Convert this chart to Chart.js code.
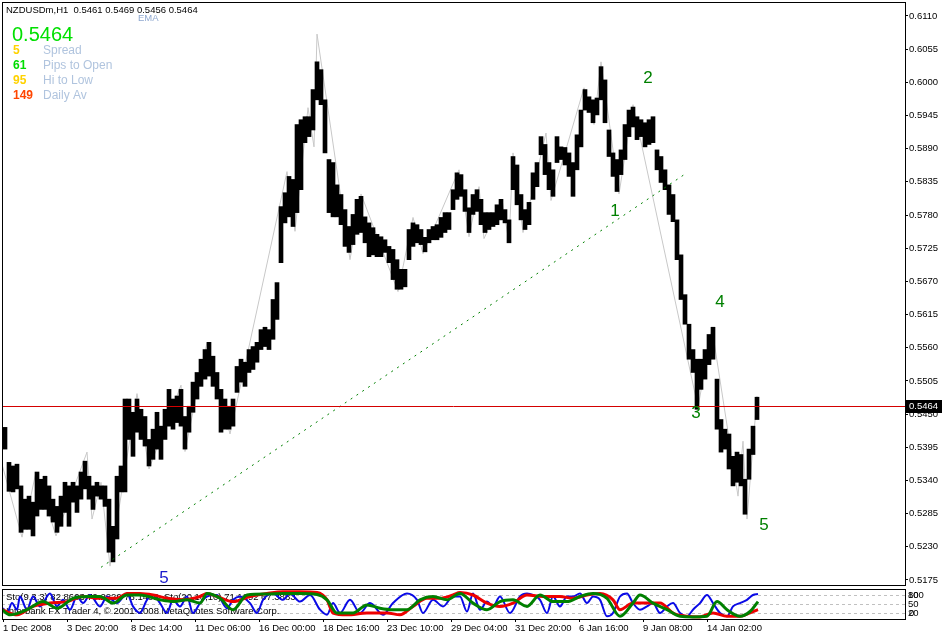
<!DOCTYPE html>
<html>
<head>
<meta charset="utf-8">
<script src="https://cdn.jsdelivr.net/npm/chart.js@4.4.0/dist/chart.umd.min.js"></script>
<style>
html, body { margin: 0; padding: 0; background: #fff; }
#wrap { position: relative; width: 943px; height: 636px; overflow: hidden; }
#main { position: absolute; left: 0; top: 0; }
#sub { position: absolute; left: 0; top: 588px; }
</style>
</head>
<body>
<div id="wrap">
  <canvas id="main" width="943" height="588"></canvas>
  <canvas id="sub" width="943" height="48"></canvas>
</div>
<script>
// H1 bars grouped by 4 hours: high / low of each group
const hiPrices = [
  0.5428, 0.5370, 0.5364, 0.5367, 0.5331, 0.5309, 0.5314, 0.5304, 0.5354, 0.5342,
  0.5347, 0.5331, 0.5309, 0.5297, 0.5314, 0.5337, 0.5331, 0.5337, 0.5331, 0.5354,
  0.5372, 0.5347, 0.5331, 0.5337, 0.5331, 0.5331, 0.5309, 0.5264, 0.5347, 0.5364,
  0.5475, 0.5475, 0.5453, 0.5475, 0.5458, 0.5446, 0.5408, 0.5425, 0.5453, 0.5430,
  0.5458, 0.5491, 0.5475, 0.5480, 0.5491, 0.5446, 0.5463, 0.5503, 0.5519, 0.5541,
  0.5557, 0.5569, 0.5546, 0.5519, 0.5491, 0.5475, 0.5463, 0.5475, 0.5529, 0.5541,
  0.5536, 0.5557, 0.5562, 0.5569, 0.5590, 0.5594, 0.5590, 0.5640, 0.5668, 0.5794,
  0.5817, 0.5844, 0.5839, 0.5930, 0.5938, 0.5943, 0.5943, 0.5988, 0.6034, 0.6021,
  0.5971, 0.5872, 0.5867, 0.5830, 0.5814, 0.5789, 0.5761, 0.5781, 0.5806, 0.5811,
  0.5777, 0.5767, 0.5759, 0.5748, 0.5744, 0.5739, 0.5728, 0.5723, 0.5706, 0.5690,
  0.5690, 0.5756, 0.5767, 0.5764, 0.5756, 0.5743, 0.5756, 0.5761, 0.5764, 0.5776,
  0.5784, 0.5784, 0.5822, 0.5850, 0.5847, 0.5822, 0.5792, 0.5814, 0.5822, 0.5806,
  0.5784, 0.5784, 0.5784, 0.5797, 0.5806, 0.5789, 0.5772, 0.5877, 0.5863, 0.5814,
  0.5789, 0.5801, 0.5850, 0.5867, 0.5910, 0.5897, 0.5867, 0.5855, 0.5910, 0.5893,
  0.5892, 0.5883, 0.5867, 0.5913, 0.5954, 0.5988, 0.5976, 0.5971, 0.5974, 0.6026,
  0.6004, 0.5921, 0.5883, 0.5872, 0.5888, 0.5930, 0.5954, 0.5959, 0.5943, 0.5938,
  0.5933, 0.5938, 0.5943, 0.5888, 0.5877, 0.5855, 0.5830, 0.5814, 0.5772, 0.5714,
  0.5648, 0.5599, 0.5557, 0.5541, 0.5541, 0.5557, 0.5582, 0.5594, 0.5508, 0.5441,
  0.5425, 0.5417, 0.5380, 0.5387, 0.5383, 0.5342, 0.5392, 0.5430, 0.5478
];
const loPrices = [
  0.5392, 0.5322, 0.5321, 0.5326, 0.5254, 0.5259, 0.5259, 0.5248, 0.5281, 0.5292,
  0.5292, 0.5281, 0.5271, 0.5254, 0.5264, 0.5287, 0.5264, 0.5304, 0.5287, 0.5309,
  0.5326, 0.5309, 0.5292, 0.5314, 0.5309, 0.5297, 0.5221, 0.5205, 0.5243, 0.5321,
  0.5321, 0.5408, 0.5380, 0.5420, 0.5408, 0.5397, 0.5364, 0.5375, 0.5392, 0.5375,
  0.5408, 0.5430, 0.5425, 0.5436, 0.5430, 0.5392, 0.5420, 0.5453, 0.5475, 0.5496,
  0.5508, 0.5513, 0.5496, 0.5475, 0.5420, 0.5425, 0.5425, 0.5430, 0.5486, 0.5503,
  0.5496, 0.5519, 0.5524, 0.5536, 0.5557, 0.5562, 0.5557, 0.5574, 0.5607, 0.5701,
  0.5767, 0.5777, 0.5761, 0.5784, 0.5822, 0.5900, 0.5910, 0.5921, 0.5971, 0.5963,
  0.5883, 0.5784, 0.5777, 0.5777, 0.5764, 0.5728, 0.5718, 0.5731, 0.5748, 0.5751,
  0.5734, 0.5711, 0.5714, 0.5711, 0.5711, 0.5718, 0.5701, 0.5673, 0.5657, 0.5657,
  0.5661, 0.5706, 0.5728, 0.5734, 0.5731, 0.5719, 0.5734, 0.5739, 0.5739, 0.5743,
  0.5751, 0.5756, 0.5789, 0.5806, 0.5811, 0.5786, 0.5751, 0.5781, 0.5786, 0.5764,
  0.5751, 0.5756, 0.5761, 0.5764, 0.5772, 0.5767, 0.5734, 0.5822, 0.5797, 0.5772,
  0.5756, 0.5764, 0.5806, 0.5827, 0.5880, 0.5847, 0.5822, 0.5811, 0.5867, 0.5872,
  0.5863, 0.5844, 0.5811, 0.5855, 0.5893, 0.5954, 0.5950, 0.5933, 0.5946, 0.5971,
  0.5933, 0.5877, 0.5844, 0.5819, 0.5847, 0.5872, 0.5910, 0.5926, 0.5905, 0.5910,
  0.5893, 0.5897, 0.5900, 0.5855, 0.5834, 0.5822, 0.5781, 0.5769, 0.5706, 0.5640,
  0.5599, 0.5541, 0.5519, 0.5458, 0.5491, 0.5508, 0.5532, 0.5541, 0.5425, 0.5387,
  0.5392, 0.5359, 0.5331, 0.5337, 0.5331, 0.5284, 0.5342, 0.5383, 0.5441
];
const HOURS_PER_GROUP = 4;

// ZigZag turning points (bar index, price)
const zigzagIdx = [0, 20, 34, 54, 85, 90, 99, 108, 135, 147, 179, 183, 205, 228, 285, 293, 306, 312, 315,
  348, 359, 396, 411, 421, 457, 467, 477, 482, 500, 507, 511, 521, 544, 549, 582, 592, 599, 617, 631,
  696, 710, 736, 741, 745, 755];
const zigzagPrice = [0.5367, 0.5246, 0.5354, 0.5248, 0.5387, 0.5276, 0.5337, 0.5198, 0.5484, 0.5359, 0.5498,
  0.5388, 0.5569, 0.5417, 0.5852, 0.5753, 0.5958, 0.5893, 0.6080, 0.5706, 0.5815, 0.5653, 0.5776, 0.5716,
  0.5855, 0.5744, 0.5827, 0.5741, 0.5806, 0.5734, 0.5883, 0.5751, 0.5916, 0.5804, 0.5991, 0.5930, 0.6034,
  0.5815, 0.5963, 0.5461, 0.5592, 0.5314, 0.5405, 0.5276, 0.5480];

// trend line (dotted green)
const trendIdx = [99, 684];
const trendPrice = [0.5196, 0.5849];

const lastPrice = 0.5464;
const yTicks = [0.5175, 0.5230, 0.5285, 0.5340, 0.5395, 0.5450, 0.5505, 0.5560, 0.5615, 0.5670,
  0.5725, 0.5780, 0.5835, 0.5890, 0.5945, 0.6000, 0.6055, 0.6110];

const dateIdx = [1, 65, 129, 193, 257, 321, 385, 449, 513, 577, 641, 705];
const dateLabels = ['1 Dec 2008', '3 Dec 20:00', '8 Dec 14:00', '11 Dec 06:00', '16 Dec 00:00', '18 Dec 16:00',
  '23 Dec 10:00', '29 Dec 04:00', '31 Dec 20:00', '6 Jan 16:00', '9 Jan 08:00', '14 Jan 02:00'];

// wave counts
const waveText = ['1', '2', '3', '4', '5', '5'];
const waveIdx = [613, 646, 694, 718, 762, 162];
const wavePrice = [0.5786, 0.6006, 0.5451, 0.5635, 0.5266, 0.5177];
const waveColor = ['#008000', '#008000', '#008000', '#008000', '#008000', '#1a1acc'];

// stochastic lines: [bar index, value]
const stoMain = [[1,36],[5,20],[10,53],[15,31],[18,75],[25,31],[31,75],[38,42],[48,85],[55,42],[61,64],[68,31],
  [75,75],[81,53],[88,80],[98,42],[105,75],[115,53],[125,85],[131,42],[138,20],[145,64],[151,80],[158,53],
  [165,20],[171,64],[178,42],[185,75],[191,20],[198,53],[205,75],[215,80],[225,36],[231,64],[238,75],[248,53],
  [255,20],[261,64],[271,85],[281,64],[288,85],[298,58],[308,80],[318,31],[325,14],[331,53],[338,20],[348,64],
  [358,20],[368,53],[381,14],[391,53],[405,85],[415,64],[421,20],[431,64],[441,42],[451,75],[458,75],[465,25],
  [471,85],[478,31],[485,58],[491,42],[498,75],[508,20],[518,75],[525,85],[531,80],[538,64],[545,20],[551,75],
  [558,42],[565,75],[571,75],[578,85],[585,53],[591,75],[598,64],[605,9],[611,20],[618,75],[625,85],[631,53],
  [638,31],[645,42],[651,53],[658,20],[665,42],[671,53],[678,20],[685,9],[691,31],[698,53],[705,80],[711,53],
  [718,20],[725,9],[731,42],[738,53],[745,64],[751,80],[756,83]];
const stoSignal = [[0,31],[15,14],[31,42],[48,53],[65,58],[81,75],[98,69],[115,69],[125,85],[138,85],[151,80],
  [165,69],[181,64],[198,75],[205,85],[215,75],[231,58],[248,75],[265,85],[281,91],[298,91],[315,88],[325,64],
  [331,20],[345,14],[365,20],[385,20],[398,14],[411,42],[425,69],[438,69],[451,80],[458,88],[471,80],[485,53],
  [498,42],[511,53],[525,80],[541,75],[558,75],[571,69],[585,80],[598,85],[611,64],[618,31],[631,53],[645,53],
  [658,53],[671,20],[685,9],[698,7],[711,20],[725,9],[738,9],[751,25],[756,31]];
const stoSlow = [[0,31],[8,14],[25,31],[41,58],[55,36],[71,69],[85,75],[98,75],[111,53],[125,80],[138,80],
  [158,64],[171,58],[185,64],[198,53],[205,85],[218,69],[231,31],[245,80],[265,83],[281,85],[298,85],[315,82],
  [325,64],[335,20],[351,20],[365,47],[378,36],[391,31],[405,31],[418,64],[431,75],[445,64],[458,85],[471,53],
  [485,31],[498,58],[511,64],[525,42],[538,80],[551,58],[565,58],[578,75],[591,85],[605,69],[618,9],[631,53],
  [638,80],[651,53],[665,31],[678,9],[691,7],[705,9],[715,58],[725,31],[738,9],[748,25],[756,58]];
const stoLevels = [80, 50, 20];

const FONT = '"Liberation Sans", Arial, sans-serif';
const SMALL = 9.5;

// decorations of the price window
const mainDecor = {
  id: 'mainDecor',
  afterDatasetsDraw(chart) {
    const { ctx, chartArea: ca, scales: { x, y } } = chart;
    ctx.save();
    // last price line
    const py = Math.round(y.getPixelForValue(lastPrice)) + 0.5;
    ctx.strokeStyle = '#d40000';
    ctx.lineWidth = 1;
    ctx.beginPath();
    ctx.moveTo(ca.left, py);
    ctx.lineTo(ca.right, py);
    ctx.stroke();
    // wave labels
    ctx.font = '17px ' + FONT;
    ctx.textAlign = 'center';
    ctx.textBaseline = 'middle';
    waveText.forEach((t, i) => {
      ctx.fillStyle = waveColor[i];
      ctx.fillText(t, x.getPixelForValue(waveIdx[i]), y.getPixelForValue(wavePrice[i]));
    });
    ctx.restore();
  },
  afterDraw(chart) {
    const { ctx, chartArea: ca, scales: { y } } = chart;
    ctx.save();
    ctx.strokeStyle = '#000';
    ctx.lineWidth = 1;
    ctx.strokeRect(ca.left + 0.5, ca.top - 0.5, ca.right - ca.left, ca.bottom - ca.top + 1);

    // price box on the axis
    const py = Math.round(y.getPixelForValue(lastPrice));
    ctx.fillStyle = '#000';
    ctx.fillRect(ca.right + 1, py - 6, 36, 13);
    ctx.fillStyle = '#fff';
    ctx.font = SMALL + 'px ' + FONT;
    ctx.textAlign = 'left';
    ctx.textBaseline = 'middle';
    ctx.fillText(lastPrice.toFixed(4), ca.right + 4, py + 0.5);

    // header
    ctx.fillStyle = '#000';
    ctx.fillText('NZDUSDm,H1  0.5461 0.5469 0.5456 0.5464', 6, 10);
    ctx.fillStyle = '#8fa8d0';
    ctx.fillText('EMA', 138, 18);

    // info block
    ctx.font = '20px ' + FONT;
    ctx.fillStyle = '#00e000';
    ctx.fillText('0.5464', 12, 35);
    const rows = [['5', '#ffd200', 'Spread'], ['61', '#00dd00', 'Pips to Open'],
      ['95', '#ffd200', 'Hi to Low'], ['149', '#ff4500', 'Daily Av']];
    rows.forEach((r, i) => {
      const ry = 51 + i * 15;
      ctx.font = 'bold 12px ' + FONT;
      ctx.fillStyle = r[1];
      ctx.fillText(r[0], 13, ry);
      ctx.font = '12px ' + FONT;
      ctx.fillStyle = '#b0c4de';
      ctx.fillText(r[2], 43, ry);
    });
    ctx.restore();
  }
};

new Chart(document.getElementById('main'), {
  type: 'bar',
  data: {
    datasets: [
      {
        type: 'line',
        label: 'ZigZag',
        data: zigzagIdx.map((v, i) => ({ x: v, y: zigzagPrice[i] })),
        borderColor: '#c8c8c8',
        borderWidth: 1,
        pointRadius: 0,
        tension: 0,
        order: 3
      },
      {
        type: 'bar',
        label: 'NZDUSDm',
        data: hiPrices.map((h, i) => ({ x: 3 + i * HOURS_PER_GROUP, y: [loPrices[i], h] })),
        backgroundColor: '#000',
        borderWidth: 0,
        barThickness: HOURS_PER_GROUP,
        order: 2
      },
      {
        type: 'line',
        label: 'Trend',
        data: trendIdx.map((v, i) => ({ x: v, y: trendPrice[i] })),
        borderColor: '#008000',
        borderWidth: 1,
        borderDash: [2, 5],
        pointRadius: 0,
        order: 1
      }
    ]
  },
  options: {
    responsive: false,
    animation: false,
    devicePixelRatio: 1,
    layout: { padding: { left: 2, top: 3, right: 0, bottom: 3 }, autoPadding: false },
    plugins: { legend: { display: false }, tooltip: { enabled: false } },
    scales: {
      x: { type: 'linear', min: 0, max: 903, display: false, offset: false },
      y: {
        position: 'right',
        min: 0.51667,
        max: 0.61315,
        afterBuildTicks: s => { s.ticks = yTicks.map(v => ({ value: v })); },
        afterFit: s => { s.width = 38; s.paddingTop = 0; s.paddingBottom = 0; },
        grid: { drawOnChartArea: false, tickLength: 3, color: '#000' },
        border: { display: true, color: '#000' },
        ticks: { padding: 1, color: '#000', font: { family: FONT, size: SMALL }, callback: v => v.toFixed(4) }
      }
    }
  },
  plugins: [mainDecor]
});

// decorations of the stochastic window
const subDecor = {
  id: 'subDecor',
  beforeDatasetsDraw(chart) {
    const { ctx, chartArea: ca, scales: { y } } = chart;
    ctx.save();
    ctx.strokeStyle = '#c0c0c0';
    ctx.lineWidth = 1;
    ctx.setLineDash([3, 3]);
    stoLevels.forEach(l => {
      const ly = Math.round(y.getPixelForValue(l)) + 0.5;
      ctx.beginPath();
      ctx.moveTo(ca.left, ly);
      ctx.lineTo(ca.right, ly);
      ctx.stroke();
    });
    ctx.setLineDash([]);
    ctx.fillStyle = '#000';
    ctx.font = SMALL + 'px ' + FONT;
    ctx.textBaseline = 'middle';
    ctx.fillText('Sto(9,3,3) 82.8603 79.2229 76.1405  Sto(20,10,10) 71.1292 67.3883', 6, 9);
    ctx.fillText('Interbank FX Trader 4, \u00a9 2001-2008 MetaQuotes Software Corp.', 6, 23);
    ctx.restore();
  },
  afterDraw(chart) {
    const { ctx, chartArea: ca, scales: { y } } = chart;
    ctx.save();
    ctx.strokeStyle = '#000';
    ctx.lineWidth = 1;
    ctx.strokeRect(ca.left + 0.5, ca.top + 0.5, ca.right - ca.left, ca.bottom - ca.top);
    ctx.fillStyle = '#000';
    ctx.font = SMALL + 'px ' + FONT;
    ctx.textBaseline = 'middle';
    ctx.textAlign = 'left';
    const x0 = ca.right + 3;
    ctx.fillText('100', x0, y.getPixelForValue(80));
    ctx.fillText('80', x0, y.getPixelForValue(80));
    ctx.fillText('50', x0, y.getPixelForValue(50));
    ctx.fillText('20', x0, y.getPixelForValue(20));
    ctx.fillText('0', x0 + 1, y.getPixelForValue(20));
    ctx.restore();
  }
};

new Chart(document.getElementById('sub'), {
  type: 'line',
  data: {
    datasets: [
      { label: 'Main', data: stoMain.map(p => ({ x: p[0], y: p[1] })), borderColor: '#0a0ae6', borderWidth: 2, pointRadius: 0, tension: 0.35, cubicInterpolationMode: 'monotone', order: 3 },
      { label: 'Signal', data: stoSignal.map(p => ({ x: p[0], y: p[1] })), borderColor: '#ee0000', borderWidth: 3, pointRadius: 0, cubicInterpolationMode: 'monotone', order: 2 },
      { label: 'Slow', data: stoSlow.map(p => ({ x: p[0], y: p[1] })), borderColor: '#008000', borderWidth: 3, pointRadius: 0, cubicInterpolationMode: 'monotone', order: 1 }
    ]
  },
  options: {
    responsive: false,
    animation: false,
    devicePixelRatio: 1,
    layout: { padding: { left: 2, top: 1, right: 38, bottom: 0 }, autoPadding: false },
    plugins: { legend: { display: false }, tooltip: { enabled: false } },
    scales: {
      x: {
        type: 'linear',
        min: 0,
        max: 903,
        offset: false,
        afterBuildTicks: s => { s.ticks = dateIdx.map(v => ({ value: v })); },
        afterFit: s => { s.height = 17; s.paddingLeft = 0; s.paddingRight = 0; },
        grid: { drawOnChartArea: false, tickLength: 3, color: '#000' },
        border: { display: true, color: '#000' },
        ticks: {
          autoSkip: false, maxRotation: 0, align: 'start', padding: 1, color: '#000',
          font: { family: FONT, size: SMALL },
          callback: (v, i) => dateLabels[i]
        }
      },
      y: { min: 0, max: 100, display: false }
    }
  },
  plugins: [subDecor]
});
</script>
</body>
</html>
